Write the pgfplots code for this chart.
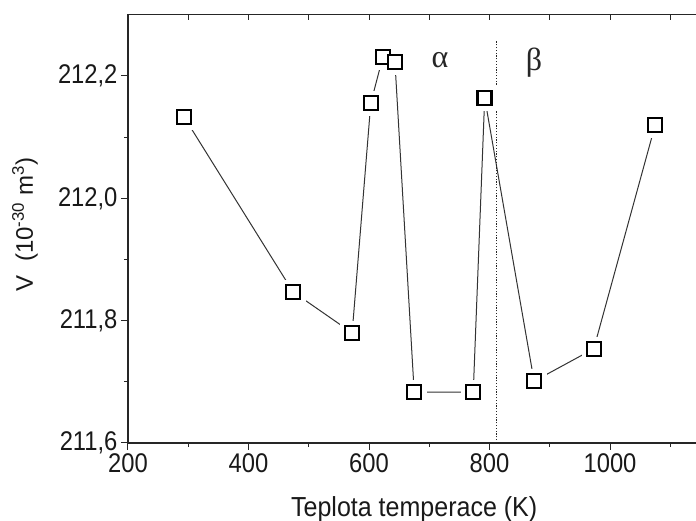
\documentclass[border=0pt]{standalone}
\usepackage{pgfplots}
\pgfplotsset{compat=1.18}
\usepackage{fontspec}
\setmainfont{Liberation Sans}
\newfontfamily\narrowfont{Liberation Sans}[FakeStretch=0.88]
\newfontfamily\labelfont{Liberation Sans}[FakeStretch=0.91]
\newfontfamily\greekfont{Liberation Serif}
\pgfplotstableread{
x y
293 212.133
474 211.847
572 211.780
603 212.156
623 212.231
643 212.223
675 211.683
773 211.683
792 212.164
874 211.701
973 211.754
1075 212.120
}\datatable
\begin{document}
\begin{tikzpicture}[x=1pt,y=1pt]
\useasboundingbox (-128,-78) rectangle (568,443);
\clip (-128,-78) rectangle (568,443);
\begin{axis}[
  at={(0,0)}, anchor=south west,
  scale only axis, width=572.4pt, height=428.2pt,
  xmin=200, xmax=1150, ymin=211.6, ymax=212.3,
  axis line style={line width=1.2pt, black!85},
  xtick={200,400,...,1000}, minor xtick={300,500,...,1100},
  ytick={211.6,211.8,212.0,212.2}, minor ytick={211.7,211.9,212.1},
  tick align=outside, xtick pos=bottom, ytick pos=left,
  major tick length=7pt, minor tick length=4pt,
  tick style={line width=1pt, black!85},
  /pgf/number format/assume math mode=true,
  ticklabel style={font=\narrowfont\fontsize{27}{27}\selectfont, text=black!90},
  yticklabel style={/pgf/number format/.cd, use comma, fixed, fixed zerofill, precision=1},
  xticklabel style={/pgf/number format/1000 sep={}},
  xlabel={Teplota temperace (K)},
  ylabel={V\ \ (10\textsuperscript{-30} m\textsuperscript{3})},
  xlabel style={font=\labelfont\fontsize{27.5}{27.5}\selectfont, text=black!90,
    at={(axis description cs:0.5,-0.1705)}, anchor=base},
  ylabel style={font=\fontsize{24}{24}\selectfont, text=black!90,
    at={(axis description cs:-0.166,0.51)}, anchor=base},
]
\addplot[line width=1pt, color=black!80, mark=none] table[x=x,y=y] {\datatable};
\addplot[only marks, mark=square*, mark size=12pt, mark options={fill=white, draw=white}] table[x=x,y=y] {\datatable};
\addplot[line width=1.2pt, black!85, dash pattern=on 1.2pt off 1.6pt] coordinates {(811,211.6) (811,212.259)};
\addplot[only marks, mark=square*, mark size=7pt, mark options={line width=2.4pt, draw=black, fill=white}] table[x=x,y=y] {\datatable};
\node[font=\greekfont\fontsize{32}{32}\selectfont, black!85] at (axis cs:718,212.226) {α};
\node[font=\greekfont\fontsize{32}{32}\selectfont, black!85] at (axis cs:874,212.222) {β};
\end{axis}
\begin{axis}[
  at={(0,0)}, anchor=south west,
  scale only axis, width=572.4pt, height=428.2pt,
  xmin=200, xmax=1150, ymin=211.6, ymax=212.3,
  axis x line*=top, axis y line=none,
  axis line style={line width=1.2pt, black!85},
  xtick={300,400,...,1100}, xticklabels={},
  tick align=inside, major tick length=5pt,
  tick style={line width=1pt, black!85},
]
\end{axis}
\end{tikzpicture}
\end{document}
